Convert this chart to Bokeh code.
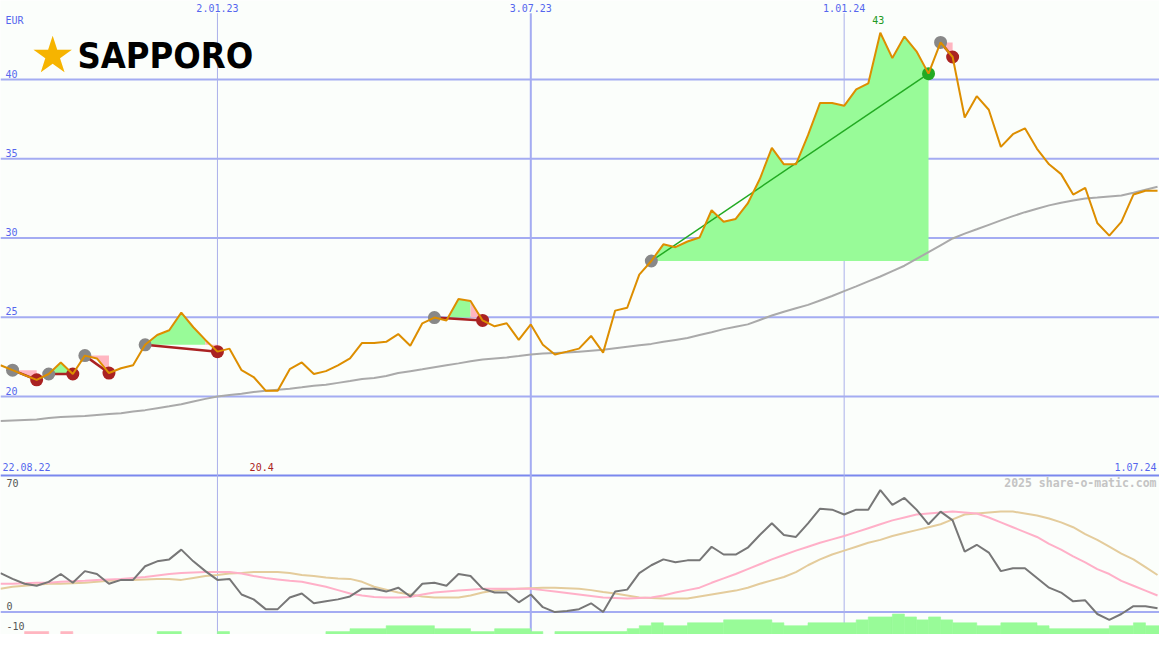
import numpy as np
import pandas as pd
from bokeh.plotting import figure
from bokeh.models import Range1d, Span, Label
from bokeh.core.properties import value
from bokeh.embed import file_html
from bokeh.resources import INLINE

# ---------------- data ----------------
start_date = "2022-08-29"          # first weekly point
price = [21.97, 21.66, 21.35, 21.05, 21.42, 22.15, 21.42, 22.58, 22.40, 21.48,
         21.78, 21.97, 23.26, 23.88, 24.18, 25.29, 24.37, 23.57, 22.83, 23.02,
         21.66, 21.23, 20.37, 20.37, 21.72, 22.15, 21.42, 21.60, 21.97, 22.40,
         23.38, 23.38, 23.45, 23.94, 23.20, 24.62, 24.98, 24.80, 26.15, 26.03,
         24.80, 24.43, 24.62, 23.57, 24.55, 23.26, 22.65, 22.83, 23.02, 23.82,
         22.77, 25.42, 25.60, 27.69, 28.55, 29.60, 29.42, 29.78, 30.03, 31.75,
         31.02, 31.20, 32.18, 33.72, 35.69, 34.65, 34.65, 36.49, 38.52, 38.52,
         38.34, 39.38, 39.75, 42.95, 41.35, 42.71, 41.78, 40.37, 42.34, 41.42,
         37.60, 38.95, 38.09, 35.75, 36.55, 36.92, 35.63, 34.65, 34.03, 32.74,
         33.17, 30.95, 30.15, 31.02, 32.74, 32.98, 32.98]
ma = [18.46, 18.49, 18.52, 18.55, 18.65, 18.71, 18.74, 18.77, 18.83, 18.89,
      18.95, 19.05, 19.14, 19.26, 19.38, 19.51, 19.69, 19.85, 20.00, 20.09,
      20.18, 20.28, 20.37, 20.43, 20.49, 20.58, 20.68, 20.74, 20.86, 20.98,
      21.11, 21.17, 21.29, 21.48, 21.60, 21.72, 21.85, 21.97, 22.09, 22.22,
      22.34, 22.40, 22.46, 22.55, 22.65, 22.71, 22.74, 22.77, 22.83, 22.89,
      22.95, 23.05, 23.14, 23.23, 23.32, 23.45, 23.57, 23.69, 23.88, 24.06,
      24.25, 24.40, 24.55, 24.83, 25.11, 25.35, 25.57, 25.78, 26.06, 26.34,
      26.65, 26.95, 27.26, 27.57, 27.91, 28.25, 28.68, 29.11, 29.54, 29.97,
      30.28, 30.55, 30.83, 31.11, 31.38, 31.63, 31.85, 32.06, 32.22, 32.37,
      32.49, 32.55, 32.62, 32.68, 32.86, 33.05, 33.23]
osc = [20, 17, 14.5, 13.5, 15.5, 19.5, 15, 21, 19.5, 14.5,
       16.5, 16.5, 23.5, 26, 27, 32, 26, 21, 16.5, 17,
       9, 6.5, 1.5, 1.5, 7.5, 9.5, 4.5, 5.5, 6.5, 8,
       12, 12, 10.5, 12.5, 8, 14.5, 15, 13.5, 19.5, 18.5,
       12, 10, 10, 5, 9, 2.5, 0, 0.5, 1.5, 4.5,
       0, 10.5, 11.5, 20, 24, 27, 25.5, 26.5, 26.5, 33.5,
       29.5, 29.5, 33, 39.5, 45.5, 39.5, 38.5, 45.5, 53, 52.5,
       50, 52.5, 52.5, 62.5, 55, 58.5, 52.5, 45, 51.5, 47,
       31, 34.5, 30.5, 21, 22.5, 22.5, 17.5, 12.5, 10, 5.5,
       6, -1, -4, -1, 3, 3, 2]
osc_fast = [14.5, 14.5, 14.75, 15, 15, 15.5, 15.75, 16, 16.5, 16.75,
            17, 17.5, 18, 18.75, 19.5, 20, 20.25, 20.5, 20.5, 20.5,
            19.75, 18.5, 17.5, 16.75, 16, 15.5, 14.25, 13, 11.25, 9.5,
            8.5, 7.75, 7.5, 7.5, 7.75, 9, 10, 10.5, 11, 11.5,
            12, 12, 12, 12, 12, 11.25, 10.5, 9.75, 9, 8.25,
            7.5, 7.25, 7, 7.25, 7.5, 8.5, 10, 11.25, 12.5, 15,
            17.25, 19.5, 22, 24.5, 27, 29.25, 31.5, 33.5, 35.5, 37.25,
            39, 41, 43, 45, 47, 48.5, 50, 50.5, 51, 51.5,
            51, 50.5, 48.5, 46, 43.5, 41, 38.5, 35, 32, 28.5,
            25.5, 22, 19.5, 16, 13.5, 11, 8.5]
osc_slow = [12, 13, 13.5, 14, 14.5, 14.5, 14.75, 15, 15.5, 16,
            16.5, 16.5, 16.75, 17, 17, 16.5, 17.5, 18.5, 19, 19.75,
            20, 20.5, 20.5, 20.5, 20, 19, 18.5, 17.75, 17.25, 17,
            15.5, 13, 11.5, 10, 9, 8, 7.5, 7.5, 7.5, 8.5,
            10, 11, 11.5, 12, 12.25, 12.5, 12.5, 12.25, 12, 11.25,
            10.25, 9.5, 8.5, 7.5, 7.25, 7, 7, 7, 8, 9,
            10, 11, 12.5, 14.5, 16.25, 18, 20.5, 24, 27, 29.5,
            31.5, 33.5, 35.5, 37, 39, 40.5, 42, 43.5, 45, 47.5,
            50, 50.5, 51, 51.5, 51.5, 50.5, 49.5, 48, 46, 43.5,
            40, 37, 33.5, 30, 27, 23, 19]
hist = [0, 0, -1, -1, 0, -1, 0, 0, 0, 0,
        0, 0, 0, 1, 1, 0, 0, 0, 1, 0,
        0, 0, 0, 0, 0, 0, 0, 1, 1, 2,
        2, 2, 3, 3, 3, 3, 2, 2, 2, 1,
        1, 2, 2, 2, 1, 0, 1, 1, 1, 1,
        1, 1, 2, 3, 4, 3, 3, 4, 4, 4,
        5, 5, 5, 5, 4, 3, 3, 4, 4, 4,
        4, 5, 6, 6, 7, 6, 5, 6, 5, 4,
        4, 3, 3, 4, 4, 4, 3, 2, 2, 2,
        2, 2, 3, 3, 4, 3, 3]
trade_entry = [1, 4, 7, 12, 36, 54, 78]
trade_exit = [3, 6, 9, 18, 40, 77, 79]
date_tick_dates = ["2023-01-02", "2023-07-03", "2024-01-01"]
date_tick_labels = ["2.01.23", "3.07.23", "1.01.24"]
range_start_label = "22.08.22"
range_end_label = "1.07.24"
price_ticks = [20, 25, 30, 35, 40]
osc_ticks = [70, 0, -10]
currency = "EUR"
company = "SAPPORO"
credit = "2025 share-o-matic.com"

# ---------------- layout ----------------
W, H = 1159, 634
REF_W, REF_H = 1175.0, 650.0
BG = "#fbfefb"
DAY = 86400000.0
GREEN_FILL, PINK_FILL = "#98fb98", "#ffb6c1"
dates = pd.date_range(start_date, periods=len(price), freq="7D")
x = (dates.asi8 // 10**6).astype(float)
px_per_day = 1173.0 / 672.0
x_start = x[0]
x_end = x_start + REF_W / px_per_day * DAY
p_top = 20 + 406 / 16.25
p_bot = 20 - (REF_H - 406) / 16.25


def ref_x(px):
    return x_start + px / REF_W * (x_end - x_start)


def ref_p(py):
    return p_top - py / REF_H * (p_top - p_bot)


p = figure(width=W, height=H, x_range=Range1d(x_start, x_end),
           y_range=Range1d(p_bot, p_top), output_backend="svg",
           toolbar_location=None, x_axis_location=None, y_axis_location=None,
           min_border=0, background_fill_color=BG, border_fill_color=BG,
           outline_line_color=None)
p.grid.visible = False
p.extra_y_ranges = {"ind": Range1d(-11.5, 313.5), "hist": Range1d(0, REF_H / 3.0)}

GRID = "#a4acf2"
for v in price_ticks:
    p.add_layout(Span(location=v, dimension="width", line_color=GRID,
                      line_width=2, level="underlay"))
p.add_layout(Span(location=0, dimension="width", y_range_name="ind",
                  line_color=GRID, line_width=2, level="underlay"))
p.add_layout(Span(location=70, dimension="width", y_range_name="ind",
                  line_color="#7a88ee", line_width=2, level="underlay"))

# vertical date lines
tick_x = [float(pd.Timestamp(d).value // 10**6) for d in date_tick_dates]
p.segment(x0=tick_x, x1=tick_x, y0=[ref_p(13)] * 3, y1=[ref_p(650)] * 3,
          line_color=["#aab0ea", "#a4acf2", "#aab0ea"], line_width=[1, 2, 1])

# histogram bars (runs of equal height merged to avoid seams)
hxs, hys, hcol = [], [], []
i = 0
while i < len(hist):
    if hist[i] == 0:
        i += 1
        continue
    j = i
    while j + 1 < len(hist) and hist[j + 1] == hist[i]:
        j += 1
    l, r, t = x[i], x[j] + 7 * DAY, abs(hist[i])
    hxs.append([l, l, r, r]); hys.append([0, t, t, 0])
    hcol.append(GREEN_FILL if hist[i] > 0 else PINK_FILL)
    i = j + 1
p.patches(hxs, hys, fill_color=hcol, line_color=hcol, line_width=0.6,
          y_range_name="hist")

# oscillator lines
p.line(x, osc_slow, line_color="#e4cc9c", line_width=2, y_range_name="ind")
p.line(x, osc_fast, line_color="#ffb0c8", line_width=2, y_range_name="ind")
p.line(x, osc, line_color="#777777", line_width=2, y_range_name="ind")

# trade fills: runs of segments with the same colour form one polygon
pxs, pys, pcol = [], [], []
for e, q in zip(trade_entry, trade_exit):
    lvl = price[e]
    cols = ["g" if price[k + 1] >= lvl else "r" for k in range(e, q)]
    k = e
    while k < q:
        m = k
        while m + 1 < q and cols[m + 1 - e] == cols[k - e]:
            m += 1
        xs = [x[k]] + [x[n] for n in range(k, m + 2)] + [x[m + 1]]
        ys = [lvl] + [price[n] for n in range(k, m + 2)] + [lvl]
        pxs.append(xs); pys.append(ys)
        pcol.append(GREEN_FILL if cols[k - e] == "g" else PINK_FILL)
        k = m + 1
p.patches(pxs, pys, fill_color=pcol, line_color=None)

# moving average
p.line(x, ma, line_color="#aaaaaa", line_width=2)

# trade lines and markers
win = [price[q] > price[e] for e, q in zip(trade_entry, trade_exit)]
p.segment(x0=[x[e] for e in trade_entry], y0=[price[e] for e in trade_entry],
          x1=[x[q] for q in trade_exit], y1=[price[q] for q in trade_exit],
          line_color=["#22aa22" if w else "#aa2222" for w in win],
          line_width=[1.5 if w else 2.5 for w in win])
p.scatter([x[e] for e in trade_entry], [price[e] for e in trade_entry],
          size=13, fill_color="#888888", line_color=None)
p.scatter([x[q] for q in trade_exit], [price[q] for q in trade_exit],
          size=13, fill_color=["#22aa22" if w else "#aa2222" for w in win],
          line_color=None)

# price line
p.line(x, price, line_color="#dd8e00", line_width=2)

# texts
MONO = value("DejaVu Sans Mono")
BLUE = "#5566ee"
p.text(x=[ref_x(5)] * len(price_ticks), y=price_ticks,
       text=[str(t) for t in price_ticks], text_font=MONO, text_font_size="10px",
       text_color=BLUE, text_align="left", text_baseline="bottom", y_offset=-2)
p.text(x=[ref_x(5)], y=[ref_p(21)], text=[currency], text_font=MONO,
       text_font_size="10px", text_color=BLUE, text_align="left",
       text_baseline="middle")
p.text(x=tick_x, y=[ref_p(8)] * 3, text=date_tick_labels, text_font=MONO,
       text_font_size="10px", text_color=BLUE, text_align="center",
       text_baseline="middle")
p.text(x=[ref_x(2)], y=[ref_p(478)], text=[range_start_label], text_font=MONO,
       text_font_size="10px", text_color=BLUE, text_align="left",
       text_baseline="middle")
p.text(x=[ref_x(1172)], y=[ref_p(478)], text=[range_end_label], text_font=MONO,
       text_font_size="10px", text_color=BLUE, text_align="right",
       text_baseline="middle")
imax = int(np.argmax(price)); imin = int(np.argmin(price))
p.text(x=[x[imax]], y=[ref_p(20)], text=[f"{price[imax]:.0f}"], text_font=MONO,
       text_font_size="10px", text_color="#229922", text_align="center",
       text_baseline="middle", x_offset=-2)
p.text(x=[x[imin]], y=[ref_p(478)], text=[f"{price[imin]:.1f}"], text_font=MONO,
       text_font_size="10px", text_color="#aa2222", text_align="center",
       text_baseline="middle", x_offset=-4)
p.text(x=[ref_x(6)] * 3, y=osc_ticks, text=[str(t) for t in osc_ticks],
       text_font=MONO, text_font_size="10px", text_color="#555555",
       text_align="left", text_baseline=["top", "bottom", "bottom"],
       y_offset=[3, -2, -2], y_range_name="ind")
p.text(x=[ref_x(1172)], y=[ref_p(495)], text=[credit],
       text_font=MONO, text_font_size="11.5px", text_font_style="bold",
       text_color="#c4c4c4", text_align="right", text_baseline="middle")

# logo
sx, sy = W / REF_W, H / REF_H
p.add_layout(Label(x=53 * sx, y=H - 56 * sy, x_units="screen", y_units="screen",
                   text="\u2605", text_font="DejaVu Sans", text_font_size="50px",
                   text_color="#f6b400", text_align="center",
                   text_baseline="middle"))
p.add_layout(Label(x=78 * sx, y=H - 56 * sy, x_units="screen", y_units="screen",
                   text=company,
                   text_font="DejaVu Sans Condensed",
                   text_font_style="bold", text_font_size="36px",
                   text_color="#000000", text_align="left",
                   text_baseline="middle"))

open("out.html", "w").write(file_html(p, INLINE))
